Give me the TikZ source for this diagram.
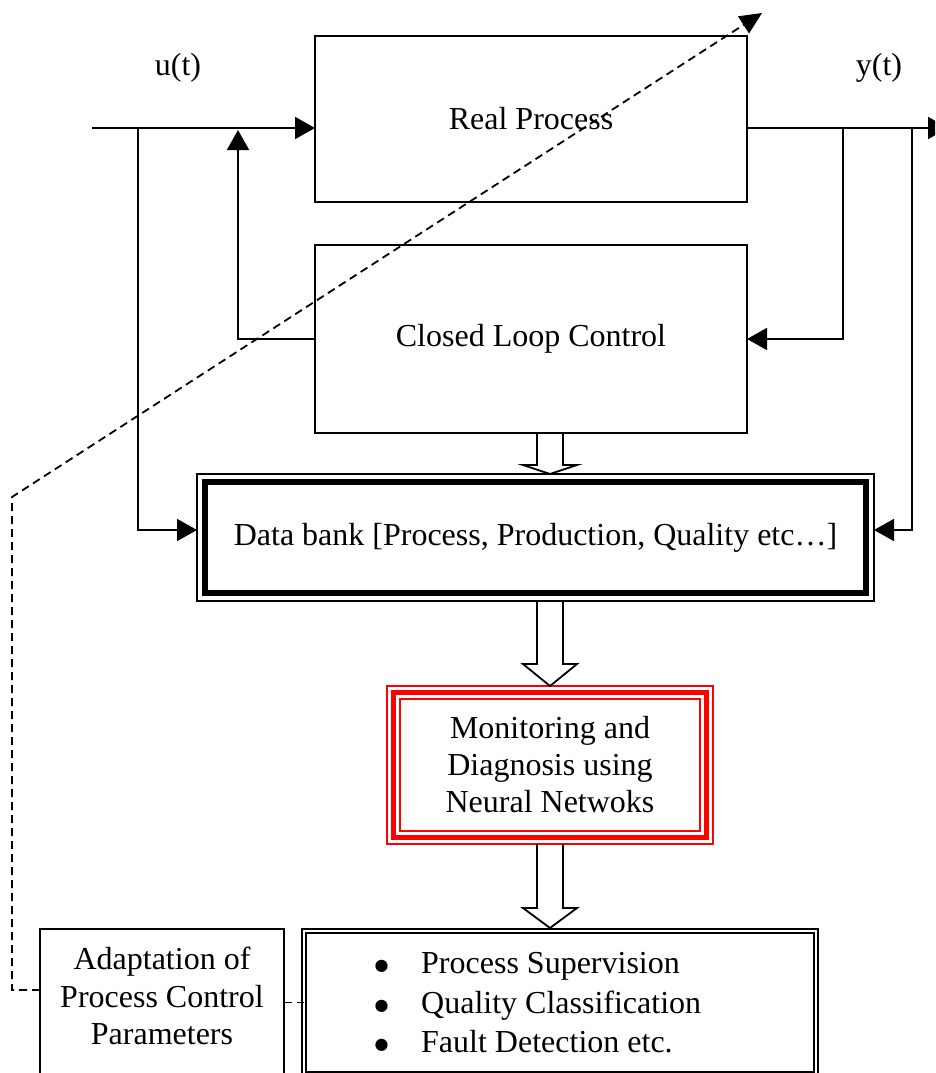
\documentclass[tikz,border=0pt]{standalone}
\usepackage{fontspec}
\setmainfont{Liberation Serif}
\newfontfamily\bulletfont{DejaVu Sans}
\usetikzlibrary{positioning,calc,arrows.meta}

% open block arrow between two points, #3 = head length
\newcommand{\hollowarrow}[3]{%
  \draw[hollow] let \p1=(#1), \p2=(#2) in
    (\x1-13pt,\y1) -- (\x1-13pt,\y2+#3) -- (\x1-27pt,\y2+#3) -- (\x2,\y2)
    -- (\x1+27pt,\y2+#3) -- (\x1+13pt,\y2+#3) -- (\x1+13pt,\y1);
}
\newcommand{\bigbullet}{\makebox[46.5pt][l]{\raisebox{3pt}{\bulletfont\fontsize{16}{16}\selectfont ●}}}

\begin{document}
\begin{tikzpicture}[
      x=1pt, y=-1pt,
      font=\fontsize{32}{37}\selectfont,
      block/.style={
        draw,
        line width=1.8pt,
        inner sep=0pt,
        outer sep=0pt,
        align=center
      },
      sig/.style={line width=1.8pt, -{Triangle[length=20pt,width=22pt]}},
      hollow/.style={line width=1.8pt, line join=miter},
      tune/.style={line width=1.8pt, dash pattern=on 8pt off 5pt},
      tunearrow/.style={tune, -{Triangle[length=22pt,width=20pt]}}
    ]
    \useasboundingbox (0,0) rectangle (935,1073);
    \clip (0,0) rectangle (935,1073);
    %% Blocks
    \node[block, minimum width=432pt, minimum height=166pt] (proc) at (531,119) {Real Process};
    \node[block, minimum width=432pt, minimum height=188pt] (ctrl) at (531,339) {Closed Loop Control};
    \node[block, minimum width=677pt, minimum height=127pt] (bank) at (535.5,537.5)
      {\raisebox{-5pt}{Data bank [Process, Production, Quality etc…]}};
    \draw[line width=6.5pt] ([shift={(8pt,-8pt)}]bank.north west) rectangle ([shift={(-8pt,8pt)}]bank.south east);
    %% Monitoring
    \node[block, draw=red, minimum width=326pt, minimum height=158pt] (mon) at (550,765)
      {Monitoring and\\Diagnosis using\\Neural Netwoks};
    \draw[red, line width=4.5pt] ([shift={(6.5pt,-6.5pt)}]mon.north west) rectangle ([shift={(-6.5pt,6.5pt)}]mon.south east);
    \draw[red, line width=1.8pt] ([shift={(13pt,-13pt)}]mon.north west) rectangle ([shift={(-13pt,13pt)}]mon.south east);
    %% Results
    \node[block, double, double distance=2.5pt, line width=1.9pt, minimum width=512pt, minimum height=143pt] (tasks) at (560,1002.5) {};
    \node[anchor=west, inner sep=0pt, align=left, font=\fontsize{32}{39.5}\selectfont] (tasks-list) at (374.5,1003)
      {\bigbullet Process Supervision\\
       \bigbullet Quality Classification\\
       \bigbullet Fault Detection etc.};
    \node[block, minimum width=244pt, minimum height=160pt] (adapt) at (162,1009) {};
    \node[align=center, inner sep=0pt, font=\fontsize{32}{37.5}\selectfont] (adapt-text) at (162,996)
      {Adaptation of\\Process Control\\Parameters};
    %% Signals
    \node (u-label) at (178,68) {u(t)};
    \node (y-label) at (879,68) {y(t)};
    \coordinate (u-in) at (92,128);
    \coordinate (u-tap) at (138,128);
    \coordinate (fb-up) at (238,130);
    \coordinate (y-out) at (948,128);
    \coordinate (y-tap1) at (843,128);
    \coordinate (y-tap2) at (912,128);
    \draw[sig] (u-in) -- (u-in -| proc.west);
    \draw[sig] (u-tap) |- ([yshift=7.5pt]bank.west);
    \draw[sig] (ctrl.west) -| (fb-up);
    \draw[sig] (y-out -| proc.east) -- (y-out);
    \draw[sig] (y-tap1) |- (ctrl.east);
    \draw[sig] (y-tap2) |- ([yshift=7.5pt]bank.east);
    %% Block arrows
    \hollowarrow{mon.north |- ctrl.south}{mon.north |- bank.north}{9pt}
    \hollowarrow{mon.north |- bank.south}{mon.north}{22pt}
    \hollowarrow{mon.south}{[yshift=3pt]mon.south |- tasks.north}{20pt}
    %% Adaptation path
    \coordinate (adj-turn) at (12,990);
    \coordinate (adj-bend) at (12,497);
    \coordinate (adj-tip) at (762,13);
    \draw[tunearrow] (adj-turn -| adapt.west) -- (adj-turn) -- (adj-bend) -- (adj-tip);
    \draw[tune] (adapt.east |- tasks.west) -- (tasks.west);
  \end{tikzpicture}
\end{document}
